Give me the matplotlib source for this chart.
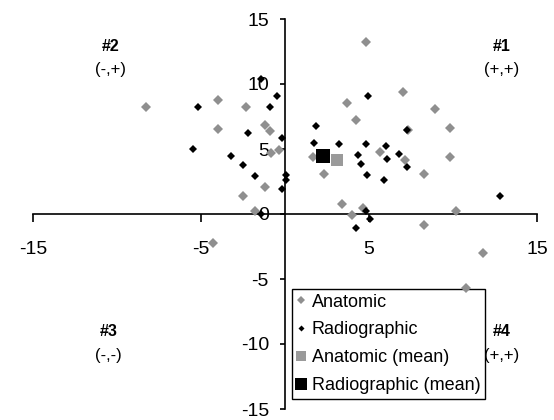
import matplotlib
matplotlib.use("Agg")
import matplotlib.pyplot as plt

plt.rcParams["font.family"] = ["Liberation Sans", "DejaVu Sans"]

# ---------------------------------------------------------------------------
# Data
# ---------------------------------------------------------------------------
anatomic_x = [-8.3, -4.0, -4.0, -2.3, -1.2, -0.9, -0.85, -0.35, -1.2, -2.5,
              -1.8, -4.3, 4.8, 7.0, 3.7, 8.9, 4.2, 9.8, 7.3, 5.65,
              1.65, 9.8, 7.15, 2.3, 8.3, 3.4, 4.0, 4.65, 10.2, 8.3,
              11.8, 10.8]
anatomic_y = [8.2, 8.8, 6.55, 8.2, 6.85, 6.35, 4.7, 4.9, 2.1, 1.4,
              0.2, -2.2, 13.2, 9.35, 8.55, 8.05, 7.2, 6.6, 6.45, 4.8,
              4.35, 4.35, 4.15, 3.1, 3.1, 0.8, -0.1, 0.5, 0.25, -0.85,
              -3.0, -5.7]

radio_x = [-1.45, -0.45, -0.9, -5.2, -2.2, -0.2, -5.5, -3.2, -2.5, -1.8,
           0.05, 0.05, -0.2, -1.4, 4.95, 1.85, 7.25, 1.75, 3.2, 4.85,
           6.0, 4.35, 6.1, 6.8, 4.55, 7.25, 4.9, 5.9, 12.8, 4.85,
           5.05, 4.2]
radio_y = [10.35, 9.05, 8.25, 8.25, 6.2, 5.85, 5.0, 4.5, 3.8, 2.9,
           3.0, 2.6, 1.9, 0.0, 9.1, 6.75, 6.5, 5.5, 5.35, 5.35,
           5.25, 4.55, 4.25, 4.65, 3.85, 3.65, 3.0, 2.6, 1.4, 0.25,
           -0.4, -1.05]

anatomic_mean = (3.1, 4.15)
radio_mean = (2.25, 4.5)

quadrant_names = ["#1", "#2", "#3", "#4"]
quadrant_signs = ["(+,+)", "(-,+)", "(-,-)", "(+,+)"]
quadrant_pos = [(12.9, 12.9), (-10.4, 12.9), (-10.5, -9.05), (12.9, -9.05)]

x_ticks = [-15, -5, 5, 15]
y_ticks = [-15, -10, -5, 0, 5, 10, 15]

GRAY = "#8f8f8f"
GRAY_SQ = "#9a9a9a"

# ---------------------------------------------------------------------------
# Figure
# ---------------------------------------------------------------------------
fig = plt.figure(figsize=(5.54, 4.2), dpi=100)
ax = fig.add_axes([33 / 554, 11 / 420, 504 / 554, 390 / 420])

ax.plot(anatomic_x, anatomic_y, "D", color=GRAY, markersize=5.2,
        markeredgewidth=0, label="Anatomic", zorder=3)
ax.plot(radio_x, radio_y, "D", color="black", markersize=3.6,
        markeredgewidth=0, label="Radiographic", zorder=4)
ax.plot([anatomic_mean[0]], [anatomic_mean[1]], "s", color=GRAY_SQ,
        markersize=9.3, markeredgewidth=0, label="Anatomic (mean)", zorder=5)
ax.plot([radio_mean[0]], [radio_mean[1]], "s", color="black",
        markersize=9.5, markeredgewidth=0, label="Radiographic (mean)", zorder=6)

# --- axes crossing at the origin ---
ax.set_xlim(-15, 15)
ax.set_ylim(-15, 15)
ax.spines["left"].set_position(("data", 0))
ax.spines["bottom"].set_position(("data", 0))
ax.spines["top"].set_visible(False)
ax.spines["right"].set_visible(False)
for s in ("left", "bottom"):
    ax.spines[s].set_linewidth(1.2)
    ax.spines[s].set_zorder(2)

ax.set_xticks(x_ticks)
ax.set_yticks(y_ticks)
ax.set_xticklabels([str(v) for v in x_ticks])
ax.set_yticklabels([str(v) for v in y_ticks])
ax.tick_params(axis="x", direction="out", length=5.8, width=1.2, pad=13.5,
               labelsize=14)
ax.tick_params(axis="y", direction="out", length=3.6, width=1.2, pad=8,
               labelsize=14)
ax.patch.set_visible(False)

# --- quadrant labels ---
for name, sign, (qx, qy) in zip(quadrant_names, quadrant_signs, quadrant_pos):
    ax.text(qx, qy, name, ha="center", va="center", fontsize=11.5,
            fontweight="bold")
    ax.text(qx, qy - 1.8, sign, ha="center", va="center", fontsize=12)

# --- legend ---
leg = ax.legend(loc="upper left", bbox_to_anchor=(292 / 554, 1 - 289 / 420),
                bbox_transform=fig.transFigure, borderaxespad=0,
                fancybox=False, framealpha=1, edgecolor="black",
                fontsize=13, handlelength=0.45, handletextpad=0.4,
                labelspacing=0.6, borderpad=0.25, markerscale=0.85)
leg.get_frame().set_linewidth(1.0)
leg.set_zorder(2.5)

fig.savefig("out.png", dpi=100)
